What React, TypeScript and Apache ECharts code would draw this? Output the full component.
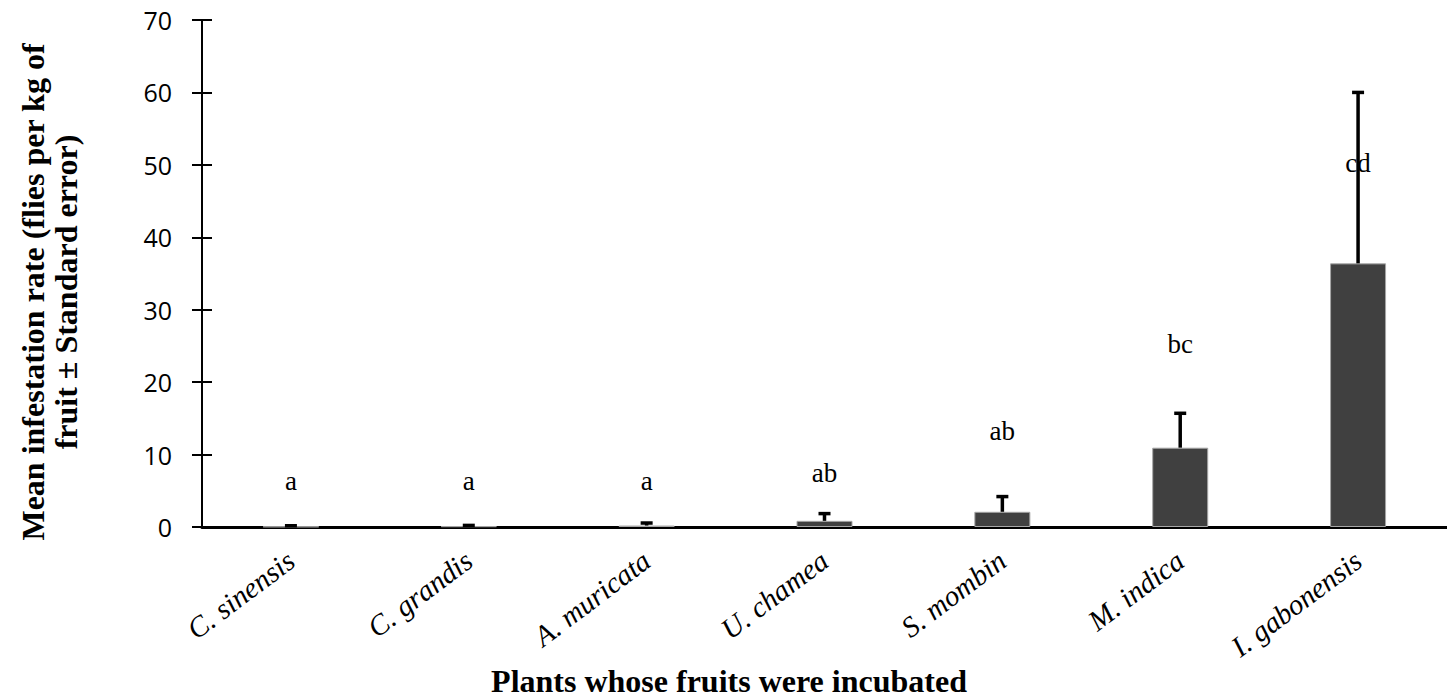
import React, { useEffect, useRef } from "react";
import * as echarts from "echarts";

const categories = ["C. sinensis", "C. grandis", "A. muricata", "U. chamea", "S. mombin", "M. indica", "I. gabonensis"];
const meanRate = [0.05, 0.1, 0.2, 0.85, 2.1, 10.95, 36.4];
const stdError = [0.12, 0.12, 0.35, 1.0, 2.1, 4.75, 23.6];
const groupLetters = ["a", "a", "a", "ab", "ab", "bc", "cd"];
const letterY = [6.4, 6.4, 6.4, 7.5, 13.2, 25.2, 50.3];
const yTicks = { min: 0, max: 70, interval: 10 };

const serif = "'Liberation Serif', 'Times New Roman', serif";

export default function App() {
  const ref = useRef<HTMLDivElement>(null);
  useEffect(() => {
    if (!ref.current) return;
    const chart = echarts.init(ref.current, undefined, { renderer: "svg" });
    const errData = categories.map((c, i) => [i, meanRate[i], stdError[i]]);
    const letterData = categories.map((c, i) => [i, letterY[i], groupLetters[i]]);
    chart.setOption({
      animation: false,
      backgroundColor: "#ffffff",
      grid: { left: 202, top: 20, width: 1258, height: 507, containLabel: false },
      xAxis: {
        type: "category",
        data: categories,
        axisLine: { show: true, lineStyle: { color: "#000", width: 3 } },
        axisTick: { show: false },
        axisLabel: {
          rotate: 37,
          margin: 30,
          color: "#000",
          fontFamily: serif,
          fontStyle: "italic",
          fontSize: 29,
          interval: 0,
        },
        splitLine: { show: false },
      },
      yAxis: [
        {
          type: "value",
          min: yTicks.min,
          max: yTicks.max,
          interval: yTicks.interval,
          axisLine: { show: true, lineStyle: { color: "#000", width: 2 } },
          axisTick: { show: true, length: 10, lineStyle: { color: "#000", width: 2 } },
          axisLabel: { margin: 30, color: "#000", fontFamily: "'Open Sans', sans-serif", fontSize: 25 },
          splitLine: { show: false },
        },
        {
          type: "value",
          position: "left",
          min: yTicks.min,
          max: yTicks.max,
          interval: yTicks.interval,
          axisLine: { show: false },
          axisTick: { show: true, inside: true, length: 10, lineStyle: { color: "#000", width: 2 } },
          axisLabel: { show: false },
          splitLine: { show: false },
        },
      ],
      series: [
        {
          type: "bar",
          data: meanRate,
          barWidth: 56,
          itemStyle: { color: "#404040", borderColor: "#a6a6a6", borderWidth: 1 },
          z: 2,
        },
        {
          type: "custom",
          data: errData,
          encode: { x: 0, y: 1 },
          z: 3,
          renderItem: (params: any, api: any) => {
            const i = api.value(0);
            const v = api.value(1);
            const e = api.value(2);
            const p0 = api.coord([i, v]);
            const p1 = api.coord([i, v + e]);
            return {
              type: "group",
              children: [
                { type: "line", shape: { x1: p0[0], y1: p0[1], x2: p1[0], y2: p1[1] }, style: { stroke: "#000", lineWidth: 3.5 } },
                { type: "line", shape: { x1: p1[0] - 6, y1: p1[1], x2: p1[0] + 6, y2: p1[1] }, style: { stroke: "#000", lineWidth: 3.5 } },
              ],
            };
          },
        },
        {
          type: "custom",
          data: letterData,
          encode: { x: 0, y: 1 },
          z: 4,
          renderItem: (params: any, api: any) => {
            const i = api.value(0);
            const v = api.value(1);
            const p = api.coord([i, v]);
            return {
              type: "text",
              x: p[0],
              y: p[1],
              style: {
                text: groupLetters[params.dataIndex],
                fill: "#000",
                font: `27px ${serif}`,
                align: "center",
                verticalAlign: "middle",
              },
            };
          },
        },
      ],
      graphic: [
        {
          type: "text",
          x: 729,
          y: 681,
          style: {
            text: "Plants whose fruits were incubated",
            fill: "#000",
            font: `bold 32px ${serif}`,
            align: "center",
            verticalAlign: "middle",
          },
        },
        {
          type: "text",
          x: 49,
          y: 292,
          rotation: Math.PI / 2,
          style: {
            text: "Mean infestation rate (flies per kg of\nfruit ± Standard error)",
            fill: "#000",
            font: `bold 32px ${serif}`,
            lineHeight: 33,
            align: "center",
            verticalAlign: "middle",
          },
        },
      ],
    });
    return () => chart.dispose();
  }, []);
  return <div ref={ref} style={{ position: "fixed", left: 0, top: 0, width: 1447, height: 699 }} />;
}
